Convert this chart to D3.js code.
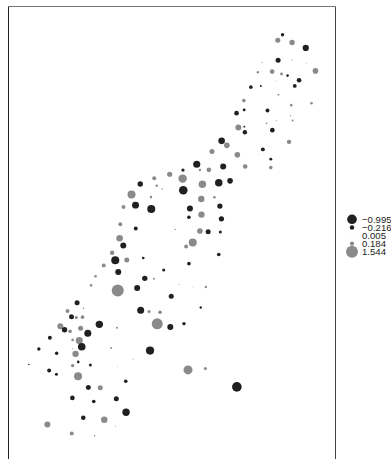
<!DOCTYPE html>
<html>
<head>
<meta charset="utf-8">
<script src="https://cdn.jsdelivr.net/npm/d3@7"></script>
<style>
  html, body { margin: 0; padding: 0; background: #fff; }
  svg { display: block; }
</style>
</head>
<body>
<svg id="chart" width="391" height="459"></svg>
<script>
// Sample locations (easting, northing in metres) and residual at each location
const easting = [
  181071,181025,181164,181297,181028,181164,180873,181304,181391,180970,
  180831,181061,181120,181232,181190,180763,180860,181011,181032,180695,
  181155,181353,180624,180698,180925,181149,181169,181011,180916,180642,
  180700,180705,180972,180479,180530,181134,180880,180841,180957,180957,
  180385,180632,180237,180268,180355,180494,180708,180103,179974,179824,
  179688,180100,180106,180292,180451,180561,179848,179902,179603,179792,
  180281,180409,179642,179795,180171,180462,179525,180283,180161,180477,
  179494,179644,180027,180268,180348,180467,180198,180134,180451,179487,
  179523,179414,179445,179557,179717,179333,179474,179916,180161,179253,
  179732,179821,179210,179469,179658,179989,180067,180203,180326,179074,
  179137,178981,179020,179066,179127,179692,179773,179880,180276,179853,
  179980,180113,179462,178911,179006,178952,179108,179290,179178,179030,
  179095,178809,179119,179032,179404,179783,178702,178875,179059,179085,
  179203,179030,178605,179617,178802,178873,179464,179083,179547,179183,
  179299,179028,179236,179455,179550,179134,179338,178785,179022,179244,
  179446,180152,180321,180627
];
const northing = [
  333611,333557,333535,333482,333362,333365,333341,333331,333259,333252,
  333246,333229,333213,333168,333113,333101,333113,333161,333028,332970,
  332926,332945,332848,332880,332873,332824,332776,332776,332749,332708,
  332717,332663,332683,332579,332535,332569,332496,332450,332401,332319,
  332475,332443,332351,332295,332297,332329,332329,332295,332254,332215,
  332159,332212,332098,332157,332171,332190,332142,332111,332057,332032,
  332014,332030,331954,331917,331921,331945,331936,331862,331836,331821,
  331768,331727,331718,331702,331695,331692,331590,331552,331474,331632,
  331562,331491,331418,331421,331440,331367,331304,331323,331385,331263,
  331242,331239,331174,331124,331149,331067,331185,331158,331158,331006,
  330951,330925,330870,330862,330865,330933,330919,330912,330959,330800,
  330770,330802,330763,330776,330727,330742,330756,330795,330708,330644,
  330637,330664,330577,330559,330566,330540,330556,330514,330508,330430,
  330399,330394,330404,330457,330347,330310,330382,330290,330242,330180,
  330178,330080,330045,330071,329940,329887,329867,329821,329734,329712,
  329805,330352,330365,330187
];
const residual = [
  -0.124, 0.270, 0.310,-0.420,-0.270, 0.015, 0.011, 0.007, 0.340, 0.230,
   0.060, 0.090,-0.070,-0.230,-0.150,-0.140,-0.040, 0.007, 0.040, 0.140,
   0.070, 0.070,-0.230,-0.090,-0.170, 0.015, 0.040, 0.011, 0.035, 0.390,
  -0.040,-0.210,-0.230,-0.470, 0.340, 0.210,-0.170, 0.007,-0.090, 0.140,
   0.270, 0.340,-0.550, 0.060, 0.230,-0.386, 0.230,-0.120, 0.290, 0.170,
  -0.310, 0.760,-0.790, 0.600,-0.600,-0.340, 0.060, 0.020, 0.690, 0.070,
   0.440, 0.070,-0.520,-0.690,-0.386,-0.300, 0.170, 0.440,-0.140,-0.300,
   0.170,-0.170, 0.020, 0.336,-0.268,-0.097, 0.690, 0.170,-0.140, 0.470,
  -0.386, 0.210,-0.690, 0.270,-0.072, 0.170,-0.386,-0.097,-0.140, 0.072,
  -0.310, 0.043, 0.072, 1.544,-0.386,-0.268, 0.011, 0.007, 0.060,-0.268,
   0.027, 0.170,-0.268, 0.097, 0.140,-0.525, 0.097, 0.140,-0.062, 1.300,
  -0.386,-0.124, 0.043, 0.386, 0.140,-0.313, 0.268,-0.587,-0.525, 0.072,
   0.525,-0.172,-0.620, 0.011, 0.043,-0.720,-0.124,-0.124, 0.440,-0.072,
  -0.097, 0.124,-0.027, 0.011,-0.172,-0.097, 0.007, 0.686,-0.139,-0.268,
   0.268,-0.227,-0.139,-0.268,-0.587,-0.227, 0.440, 0.386, 0.172, 0.027,
   0.011, 0.868, 0.097,-0.995
];
// Legend entries (five-number summary of the residuals)
const legendValues = [-0.995, -0.216, 0.005, 0.184, 1.544];
const legendLabels = ["\u22120.995", "\u22120.216", "0.005", "0.184", "1.544"];

const NEG = "#202020", POS = "#8a8a8a";

const svg = d3.select("#chart");

// Map panel with equal scaling in both directions
const panel = { left: 8.5, right: 335.5, top: 6.5 };
const xMin = 178407, xMax = 181586, yTop = 333885;
const k = (panel.right - panel.left) / (xMax - xMin);
const x = d3.scaleLinear().domain([xMin, xMax]).range([panel.left, panel.right]);
const yBottom = yTop - 470 / k;
const y = d3.scaleLinear().domain([yBottom, yTop]).range([panel.top + 470, panel.top]);

const maxAbs = d3.max(residual, d => Math.abs(d));
const r = d3.scaleSqrt().domain([0, maxAbs]).range([0, 6]);

const pts = easting.map((e, i) => ({ e, n: northing[i], v: residual[i] }));

svg.append("g")
  .selectAll("circle")
  .data(pts)
  .join("circle")
  .attr("cx", d => x(d.e))
  .attr("cy", d => y(d.n))
  .attr("r", d => r(Math.abs(d.v)))
  .attr("fill", d => d.v < 0 ? NEG : POS);

// Panel frame
const frame = svg.append("g").attr("fill", "none");
frame.append("line").attr("x1", panel.left).attr("x2", panel.left)
  .attr("y1", panel.top).attr("y2", 470).attr("stroke", "#222");
frame.append("line").attr("x1", panel.right).attr("x2", panel.right)
  .attr("y1", panel.top).attr("y2", 470).attr("stroke", "#444");
frame.append("line").attr("x1", panel.left).attr("x2", panel.right)
  .attr("y1", panel.top).attr("y2", panel.top).attr("stroke", "#777");

// Legend
const legendY = d3.scalePoint().domain(d3.range(legendValues.length))
  .range([219.3, 251.8]);
const lg = svg.append("g");
lg.selectAll("circle")
  .data(legendValues)
  .join("circle")
  .attr("cx", 352)
  .attr("cy", (d, i) => legendY(i))
  .attr("r", d => r(Math.abs(d)))
  .attr("fill", d => d < 0 ? NEG : POS);
lg.selectAll("text")
  .data(legendLabels)
  .join("text")
  .attr("x", 362)
  .attr("y", (d, i) => legendY(i) + 3.4)
  .attr("font-family", "'Liberation Sans', Arial, sans-serif")
  .attr("font-size", "9.6px")
  .attr("fill", "#222")
  .text(d => d);
</script>
</body>
</html>
